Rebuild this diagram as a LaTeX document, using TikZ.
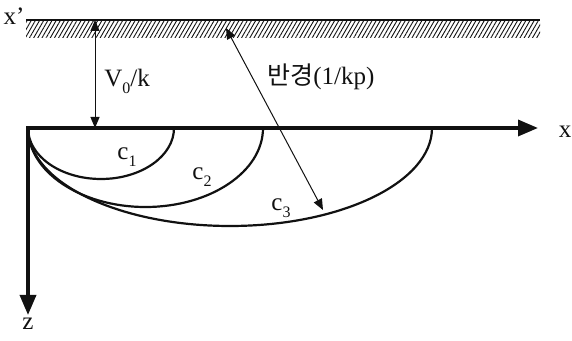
\documentclass[tikz,border=0pt]{standalone}
\usepackage{fontspec}
\setmainfont{Liberation Serif}
\newfontfamily\krfont{Noto Sans CJK KR}
\usepackage{xcolor}
\definecolor{cInk}{HTML}{111111}
\usepackage{tikz}
\usetikzlibrary{arrows.meta,patterns.meta}
\newcommand{\lowidx}[1]{\raisebox{-0.6ex}{\footnotesize #1}}
\tikzset{
  AxTip/.tip={Triangle[length=10pt,width=8pt]},
  DimTip/.tip={Triangle[length=5.5pt,width=4.5pt]},
  axis-line/.style={AxTip-AxTip,line width=1.7pt,line join=miter,draw=cInk},
  ray-path/.style={line width=1.1pt,draw=cInk},
  dim-arrow/.style={DimTip-DimTip,line width=0.5pt,draw=cInk},
  hatch-band/.style={pattern={Lines[angle=60,distance=1.8pt,line width=0.45pt]},
    pattern color=cInk},
  label-text/.style={font=\fontsize{12.5}{15}\selectfont,text=cInk,inner sep=0pt},
}

\begin{document}
\begin{tikzpicture}[x=0.5pt,y=0.5pt]
  \useasboundingbox (-28,-213) rectangle (544,128);
  \coordinate (o) at (0,0);
  % surface x'
  \path[hatch-band] (-2,90) rectangle (512,108);
  \coordinate (top-l) at (-2,108);
  \coordinate (top-r) at (512,108);
  \draw[line width=0.6pt,draw=cInk] (top-l) -- (top-r);
  \node[label-text] (xp) at (-14,112) {x’};
  % axes
  \coordinate (xend) at (510,0);
  \coordinate (zend) at (0,-187);
  \draw[axis-line] (zend) -- (o) -- (xend);
  \node[label-text] (xlab) at (537,-4) {x};
  \node[label-text] (zlab) at (0,-196) {z};
  % ray paths
  \draw[ray-path] (o) arc[start angle=180,end angle=360,x radius=73,y radius=51];
  \draw[ray-path] (o) arc[start angle=180,end angle=360,x radius=117.5,y radius=79];
  \draw[ray-path] (o) arc[start angle=180,end angle=360,x radius=202,y radius=98];
  \node[label-text] (c1) at (99,-29) {c\lowidx{1}};
  \node[label-text] (c2) at (174,-49) {c\lowidx{2}};
  \node[label-text] (c3) at (253,-80) {c\lowidx{3}};
  % V0/k and radius
  \coordinate (v-top) at (67,108);
  \coordinate (v-bot) at (67,0);
  \draw[dim-arrow] (v-top) -- (v-bot);
  \node[label-text,anchor=base west] (vk) at (76,41) {V\lowidx{0}/k};
  \coordinate (r-from) at (198,100);
  \coordinate (r-to) at (295,-82);
  \draw[dim-arrow] (r-from) -- (r-to);
  \node[label-text,anchor=base west] (rad) at (239,43) {{\krfont 반경}(1/kp)};
\end{tikzpicture}
\end{document}
